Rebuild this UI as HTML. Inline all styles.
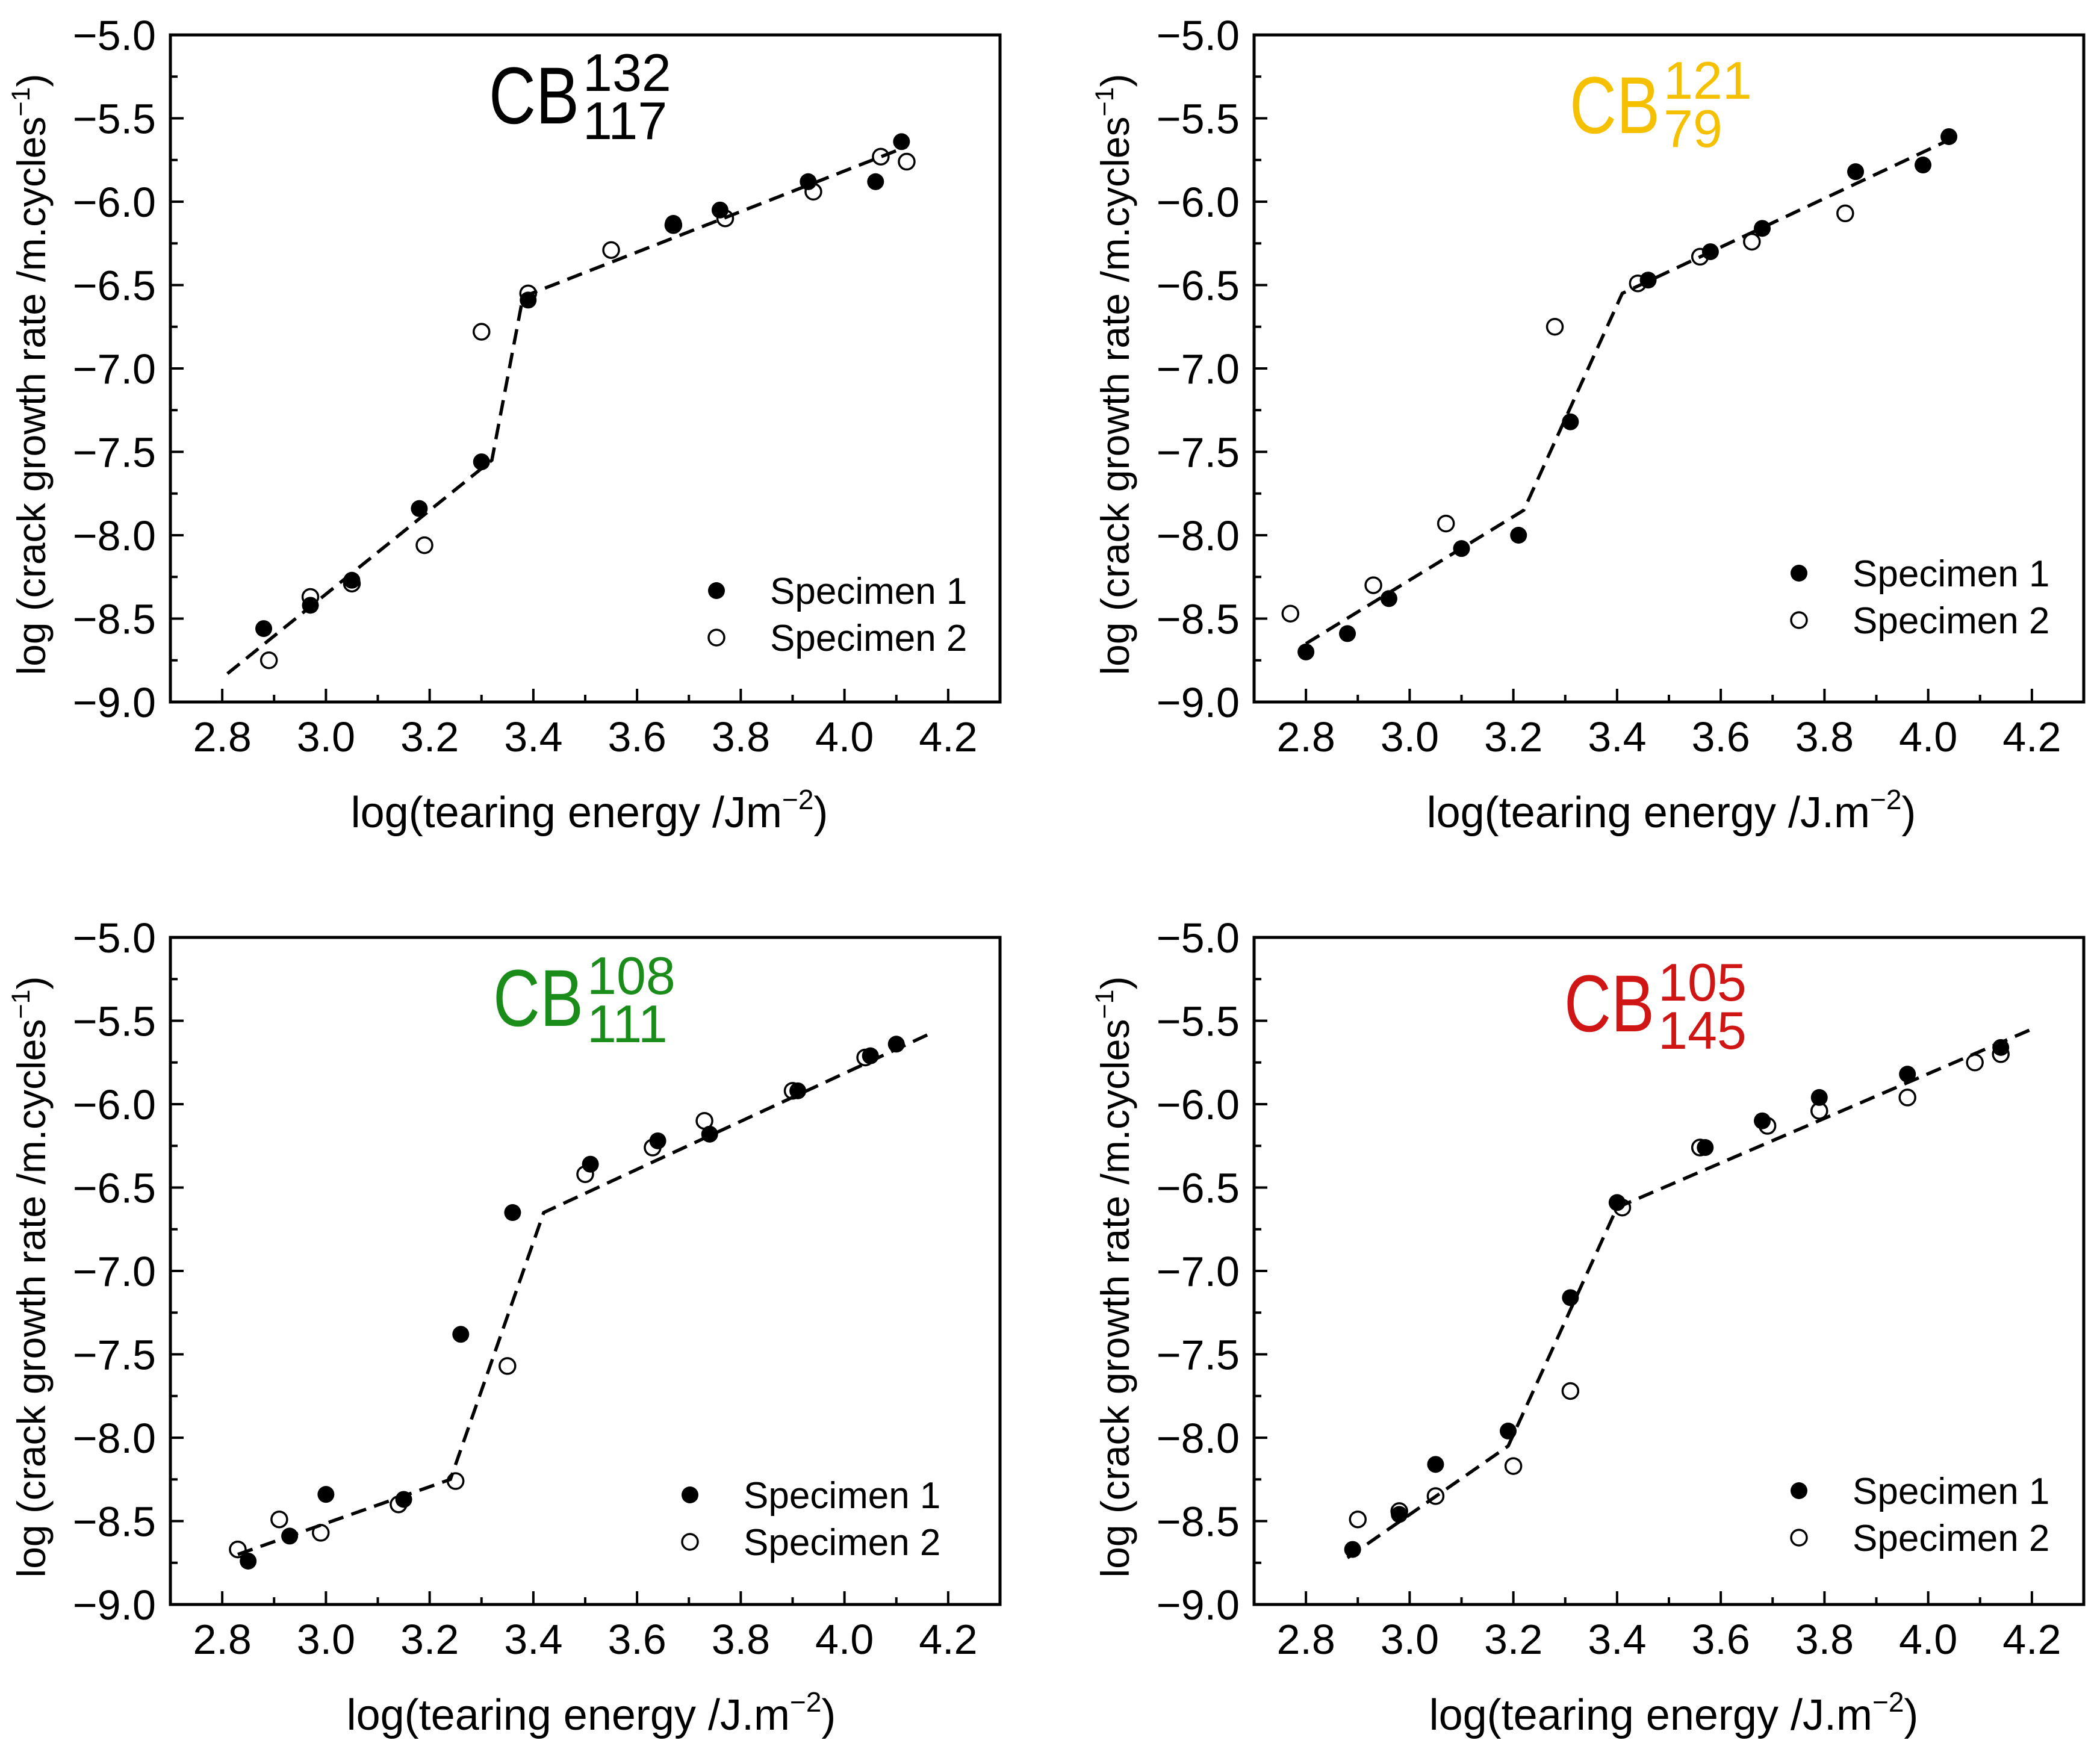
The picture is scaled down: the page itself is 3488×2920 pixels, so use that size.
<!DOCTYPE html>
<html><head><meta charset="utf-8"><style>
html,body{margin:0;padding:0;background:#fff;}
svg{display:block;font-family:"Liberation Sans",Arial,sans-serif;}
</style></head><body>
<svg id="fig" width="3488" height="2920" viewBox="0 0 3488 2920" xmlns="http://www.w3.org/2000/svg"></svg>
<script>
// ---- data ----
const xTicks = [2.8, 3.0, 3.2, 3.4, 3.6, 3.8, 4.0, 4.2];
const yTicks = [-5.0, -5.5, -6.0, -6.5, -7.0, -7.5, -8.0, -8.5, -9.0];

const p1S1x = [2.88, 2.97, 3.05, 3.18, 3.30, 3.39, 3.67, 3.76, 3.93, 4.06, 4.11];
const p1S1y = [-8.56, -8.42, -8.27, -7.84, -7.56, -6.59, -6.13, -6.05, -5.88, -5.88, -5.64];
const p1S2x = [2.89, 2.97, 3.05, 3.19, 3.30, 3.39, 3.55, 3.67, 3.77, 3.94, 4.07, 4.12];
const p1S2y = [-8.75, -8.37, -8.29, -8.06, -6.78, -6.55, -6.29, -6.14, -6.10, -5.94, -5.73, -5.76];
const p1FitX = [2.81, 3.32, 3.38, 4.12];
const p1FitY = [-8.83, -7.55, -6.57, -5.67];

const p2S1x = [2.80, 2.88, 2.96, 3.10, 3.21, 3.31, 3.46, 3.58, 3.68, 3.86, 3.99, 4.04];
const p2S1y = [-8.70, -8.59, -8.38, -8.08, -8.00, -7.32, -6.47, -6.30, -6.16, -5.82, -5.78, -5.61];
const p2S2x = [2.77, 2.93, 3.07, 3.28, 3.44, 3.56, 3.66, 3.84];
const p2S2y = [-8.47, -8.30, -7.93, -6.75, -6.49, -6.33, -6.24, -6.07];
const p2FitX = [2.80, 3.22, 3.41, 4.04];
const p2FitY = [-8.65, -7.85, -6.55, -5.63];

const p3S1x = [2.85, 2.93, 3.00, 3.15, 3.26, 3.36, 3.51, 3.64, 3.74, 3.91, 4.05, 4.10];
const p3S1y = [-8.74, -8.59, -8.34, -8.37, -7.38, -6.65, -6.36, -6.22, -6.18, -5.92, -5.71, -5.64];
const p3S2x = [2.83, 2.91, 2.99, 3.14, 3.25, 3.35, 3.50, 3.63, 3.73, 3.90, 4.04];
const p3S2y = [-8.67, -8.49, -8.57, -8.40, -8.26, -7.57, -6.42, -6.26, -6.10, -5.92, -5.72];
const p3FitX = [2.83, 3.24, 3.42, 4.17];
const p3FitY = [-8.70, -8.25, -6.65, -5.57];

const p4S1x = [2.89, 2.98, 3.05, 3.19, 3.31, 3.40, 3.57, 3.68, 3.79, 3.96, 4.14];
const p4S1y = [-8.67, -8.46, -8.16, -7.96, -7.16, -6.59, -6.26, -6.10, -5.96, -5.82, -5.66];
const p4S2x = [2.90, 2.98, 3.05, 3.20, 3.31, 3.41, 3.56, 3.69, 3.79, 3.96, 4.09, 4.14];
const p4S2y = [-8.49, -8.44, -8.35, -8.17, -7.72, -6.62, -6.26, -6.13, -6.04, -5.96, -5.75, -5.70];
const p4FitX = [2.88, 3.19, 3.40, 4.20];
const p4FitY = [-8.72, -8.05, -6.62, -5.55];

const legendLabels = ["Specimen 1", "Specimen 2"];

// ---- drawing ----
const NS = "http://www.w3.org/2000/svg";
const svg = document.getElementById("fig");
const W = 1378, H = 1108, XMIN = 2.7, XMAX = 4.3, YMIN = -9.0, YMAX = -5.0;
function mk(tag, parent, attrs) {
  const e = document.createElementNS(NS, tag);
  for (const k in attrs) e.setAttribute(k, attrs[k]);
  parent.appendChild(e);
  return e;
}
function fmt(v){ return (v<0?"\u2212":"") + Math.abs(v).toFixed(1); }

const panels = [
  {ox:283, oy:58, s1x:p1S1x, s1y:p1S1y, s2x:p1S2x, s2y:p1S2y, fx:p1FitX, fy:p1FitY,
   title:["132","117"], color:"#000", tx:812, tb:205, supb:151, subb:231, legX:1190, legY:981,
   xt:"log(tearing energy /Jm", xtx:979, name:"panel-cb132-117"},
  {ox:2083, oy:58, s1x:p2S1x, s1y:p2S1y, s2x:p2S2x, s2y:p2S2y, fx:p2FitX, fy:p2FitY,
   title:["121","79"], color:"#f5c000", tx:2607, tb:221, supb:164, subb:244, legX:2988, legY:952,
   xt:"log(tearing energy /J.m", xtx:2776, name:"panel-cb121-79"},
  {ox:283, oy:1557, s1x:p3S1x, s1y:p3S1y, s2x:p3S2x, s2y:p3S2y, fx:p3FitX, fy:p3FitY,
   title:["108","111"], color:"#1a8c1a", tx:819, tb:1704, supb:1651, subb:1731, legX:1146, legY:2483,
   xt:"log(tearing energy /J.m", xtx:982, name:"panel-cb108-111"},
  {ox:2083, oy:1557, s1x:p4S1x, s1y:p4S1y, s2x:p4S2x, s2y:p4S2y, fx:p4FitX, fy:p4FitY,
   title:["105","145"], color:"#d01515", tx:2598, tb:1713, supb:1662, subb:1742, legX:2988, legY:2476,
   xt:"log(tearing energy /J.m", xtx:2780, name:"panel-cb105-145"}
];

panels.forEach((p) => {
  const g = mk("g", svg, {});
  
  
  const X = v => p.ox + (v - XMIN) / (XMAX - XMIN) * W;
  const Y = v => p.oy + (YMAX - v) / (YMAX - YMIN) * H;

  const fr = mk("rect", g, {x:p.ox, y:p.oy, width:W, height:H, fill:"none", stroke:"#000", "stroke-width":5});
  
  

  for (let v = 2.7; v <= 4.301; v += 0.1) {
    const vv = Math.round(v*10)/10;
    const major = Math.abs(Math.round(vv*5) - vv*5) < 1e-6;
    if (vv <= 2.7 || vv >= 4.3) continue;
    const t = mk("line", g, {x1:X(vv), x2:X(vv), y1:p.oy+H, y2:p.oy+H-(major?22:12), stroke:"#000", "stroke-width":4});
    
    
  }
  xTicks.forEach(v => {
    const t = mk("text", g, {x:X(v), y:p.oy+H+82, "font-size":70, "text-anchor":"middle", fill:"#000"});
    t.textContent = v.toFixed(1);
    
    
  });
  for (let v = -9.0; v <= -5.0; v += 0.25) {
    if (v <= -9.0 || v >= -5.0) continue;
    const major = Math.abs(v*2 - Math.round(v*2)) < 1e-6;
    const t = mk("line", g, {x1:p.ox, x2:p.ox+(major?22:12), y1:Y(v), y2:Y(v), stroke:"#000", "stroke-width":4});
    
    
  }
  yTicks.forEach(v => {
    const t = mk("text", g, {x:p.ox-24, y:Y(v)+25, "font-size":70, "text-anchor":"end", fill:"#000"});
    t.textContent = fmt(v);
    
    
  });

  const xt = mk("text", g, {x:p.xtx, y:p.oy+H+208, "font-size":72, "text-anchor":"middle", fill:"#000"});
  
  
  xt.appendChild(document.createTextNode(p.xt));
  const sp = mk("tspan", xt, {dy:-30, "font-size":46}); sp.textContent = "\u22122";
  const sp2 = mk("tspan", xt, {dy:30}); sp2.textContent = ")";

  const ycx = p.ox - 208, ycy = p.oy + H/2 + 10;
  const yt = mk("text", g, {x:ycx, y:ycy, "font-size":66, "text-anchor":"middle", fill:"#000",
    transform:`rotate(-90 ${ycx} ${ycy})`});
  
  
  yt.appendChild(document.createTextNode("log (crack growth rate /m.cycles"));
  const ys = mk("tspan", yt, {dy:-26, "font-size":43}); ys.textContent = "\u22121";
  const ys2 = mk("tspan", yt, {dy:26}); ys2.textContent = ")";

  const tt = mk("text", g, {x:p.tx, y:p.tb, "font-size":134, fill:p.color, textLength:150, lengthAdjust:"spacingAndGlyphs"});
  tt.textContent = "CB";
  
  
  const tw = 156;
  const su = mk("text", g, {x:p.tx+tw, y:p.supb, "font-size":88, fill:p.color});
  su.textContent = p.title[0];
  
  
  const sb = mk("text", g, {x:p.tx+tw, y:p.subb, "font-size":88, fill:p.color});
  sb.textContent = p.title[1];
  
  

  const pts = p.fx.map((v,i) => X(v)+","+Y(p.fy[i])).join(" ");
  const fl = mk("polyline", g, {points:pts, fill:"none", stroke:"#000", "stroke-width":5.5, "stroke-dasharray":"26 14"});
  
  

  p.s1x.forEach((v,i) => {
    const c = mk("circle", g, {cx:X(v), cy:Y(p.s1y[i]), r:14, fill:"#000"});
    
    
  });
  p.s2x.forEach((v,i) => {
    const c = mk("circle", g, {cx:X(v), cy:Y(p.s2y[i]), r:13, fill:"none", stroke:"#000", "stroke-width":3.5});
    
    
  });

  const lg = mk("g", g, {});
  
  
  const m1 = mk("circle", lg, {cx:p.legX, cy:p.legY, r:14, fill:"#000"});
  
  
  const m2 = mk("circle", lg, {cx:p.legX, cy:p.legY+78, r:13, fill:"none", stroke:"#000", "stroke-width":3.5});
  
  
  legendLabels.forEach((lab,i) => {
    const t = mk("text", lg, {x:p.legX+89, y:p.legY+22+78*i, "font-size":62, fill:"#000"});
    t.textContent = lab;
    
    
  });
});
</script>
</body></html>
